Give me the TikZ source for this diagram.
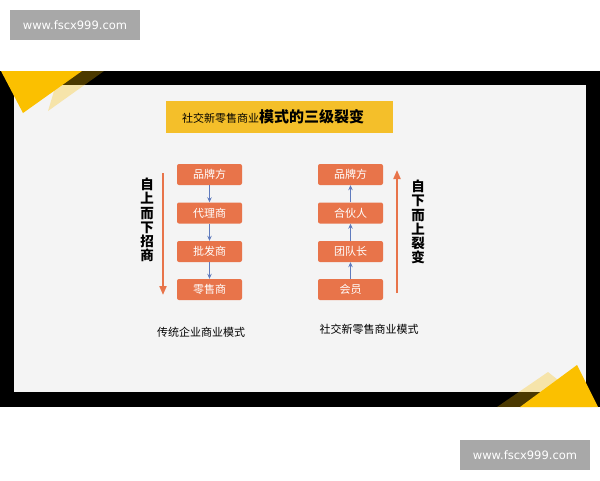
\documentclass[tikz,border=0pt]{standalone}
\usepackage{fontspec}
\setmainfont{Noto Sans CJK SC}
\newfontfamily\wmfont{DejaVu Sans}
\usetikzlibrary{arrows.meta}
\definecolor{panel}{HTML}{F4F4F4}
\definecolor{boxorange}{HTML}{E8744A}
\definecolor{arrowblue}{HTML}{5F7BBE}
\definecolor{titleyellow}{HTML}{F4BF2A}
\definecolor{cornery}{HTML}{FBC000}
\definecolor{wmgray}{HTML}{A8A8A8}
\tikzset{
  obox/.style={fill=boxorange, rounded corners=2pt, minimum width=65pt, minimum height=21pt, inner sep=0pt, text=white, font=\fontsize{11}{11}\selectfont},
  barrow/.style={draw=arrowblue, line width=1pt, -{Stealth[length=5pt,width=4.5pt]}},
  oarrow/.style={draw=boxorange, line width=2pt, -{Triangle[length=9pt,width=7pt]}},
  vtext/.style={font=\fontsize{13.5}{14.2}\selectfont\bfseries, align=center, inner sep=0pt},
  caption/.style={font=\fontsize{11}{11}\selectfont, inner sep=0pt},
  wmbox/.style={fill=wmgray, minimum width=130pt, minimum height=30pt, inner sep=0pt, text=white, font=\wmfont\fontsize{11.5}{12}\selectfont}
}
\begin{document}
\begin{tikzpicture}[x=1pt,y=-1pt]
\useasboundingbox (0,0) rectangle (600,480);
\fill[white] (0,0) rectangle (600,480);
% frame
\fill[black] (0,71) rectangle (600,407);
\fill[panel] (14,85) rectangle (586,392);
% corner decorations
\fill[cornery, opacity=0.3] (60,71) -- (104,71) -- (48,111) -- cycle;
\fill[cornery] (1,71) -- (82,71) -- (23,113) -- cycle;
\fill[cornery, opacity=0.3] (548,372) -- (592,407) -- (497,407) -- cycle;
\fill[cornery] (577,365) -- (598,407) -- (520,407) -- cycle;
% watermarks
\node[wmbox] (wm1) at (75,25) {www.fscx999.com};
\node[wmbox] (wm2) at (525,455) {www.fscx999.com};
% title
\node[fill=titleyellow, minimum width=227pt, minimum height=32pt, inner sep=0pt] (title) at (279.5,117) {};
\node[inner sep=0pt] (titletext) at (273,117)
  {{\fontsize{11}{11}\selectfont 社交新零售商业}{\fontsize{15}{15}\selectfont\bfseries 模式的三级裂变}};
% left column
\node[obox] (l1) at (209.5,174.5) {品牌方};
\node[obox] (l2) at (209.5,213) {代理商};
\node[obox] (l3) at (209.5,251.5) {批发商};
\node[obox] (l4) at (209.5,289.5) {零售商};
\draw[barrow] (l1) -- (l2);
\draw[barrow] (l2) -- (l3);
\draw[barrow] (l3) -- (l4);
\coordinate (la1) at (163,173);
\coordinate (la2) at (163,295);
\draw[oarrow] (la1) -- (la2);
\node[vtext] (lt) at (147,220) {自\\上\\而\\下\\招\\商};
\node[caption] (lc) at (201,332) {传统企业商业模式};
% right column
\node[obox] (r1) at (350.5,174.5) {品牌方};
\node[obox] (r2) at (350.5,213) {合伙人};
\node[obox] (r3) at (350.5,251.5) {团队长};
\node[obox] (r4) at (350.5,289.5) {会员};
\draw[barrow] (r2) -- (r1);
\draw[barrow] (r3) -- (r2);
\draw[barrow] (r4) -- (r3);
\coordinate (ra1) at (397,293);
\coordinate (ra2) at (397,170);
\draw[oarrow] (ra1) -- (ra2);
\node[vtext] (rt) at (418,222) {自\\下\\而\\上\\裂\\变};
\node[caption] (rc) at (369,329) {社交新零售商业模式};
\end{tikzpicture}
\end{document}
